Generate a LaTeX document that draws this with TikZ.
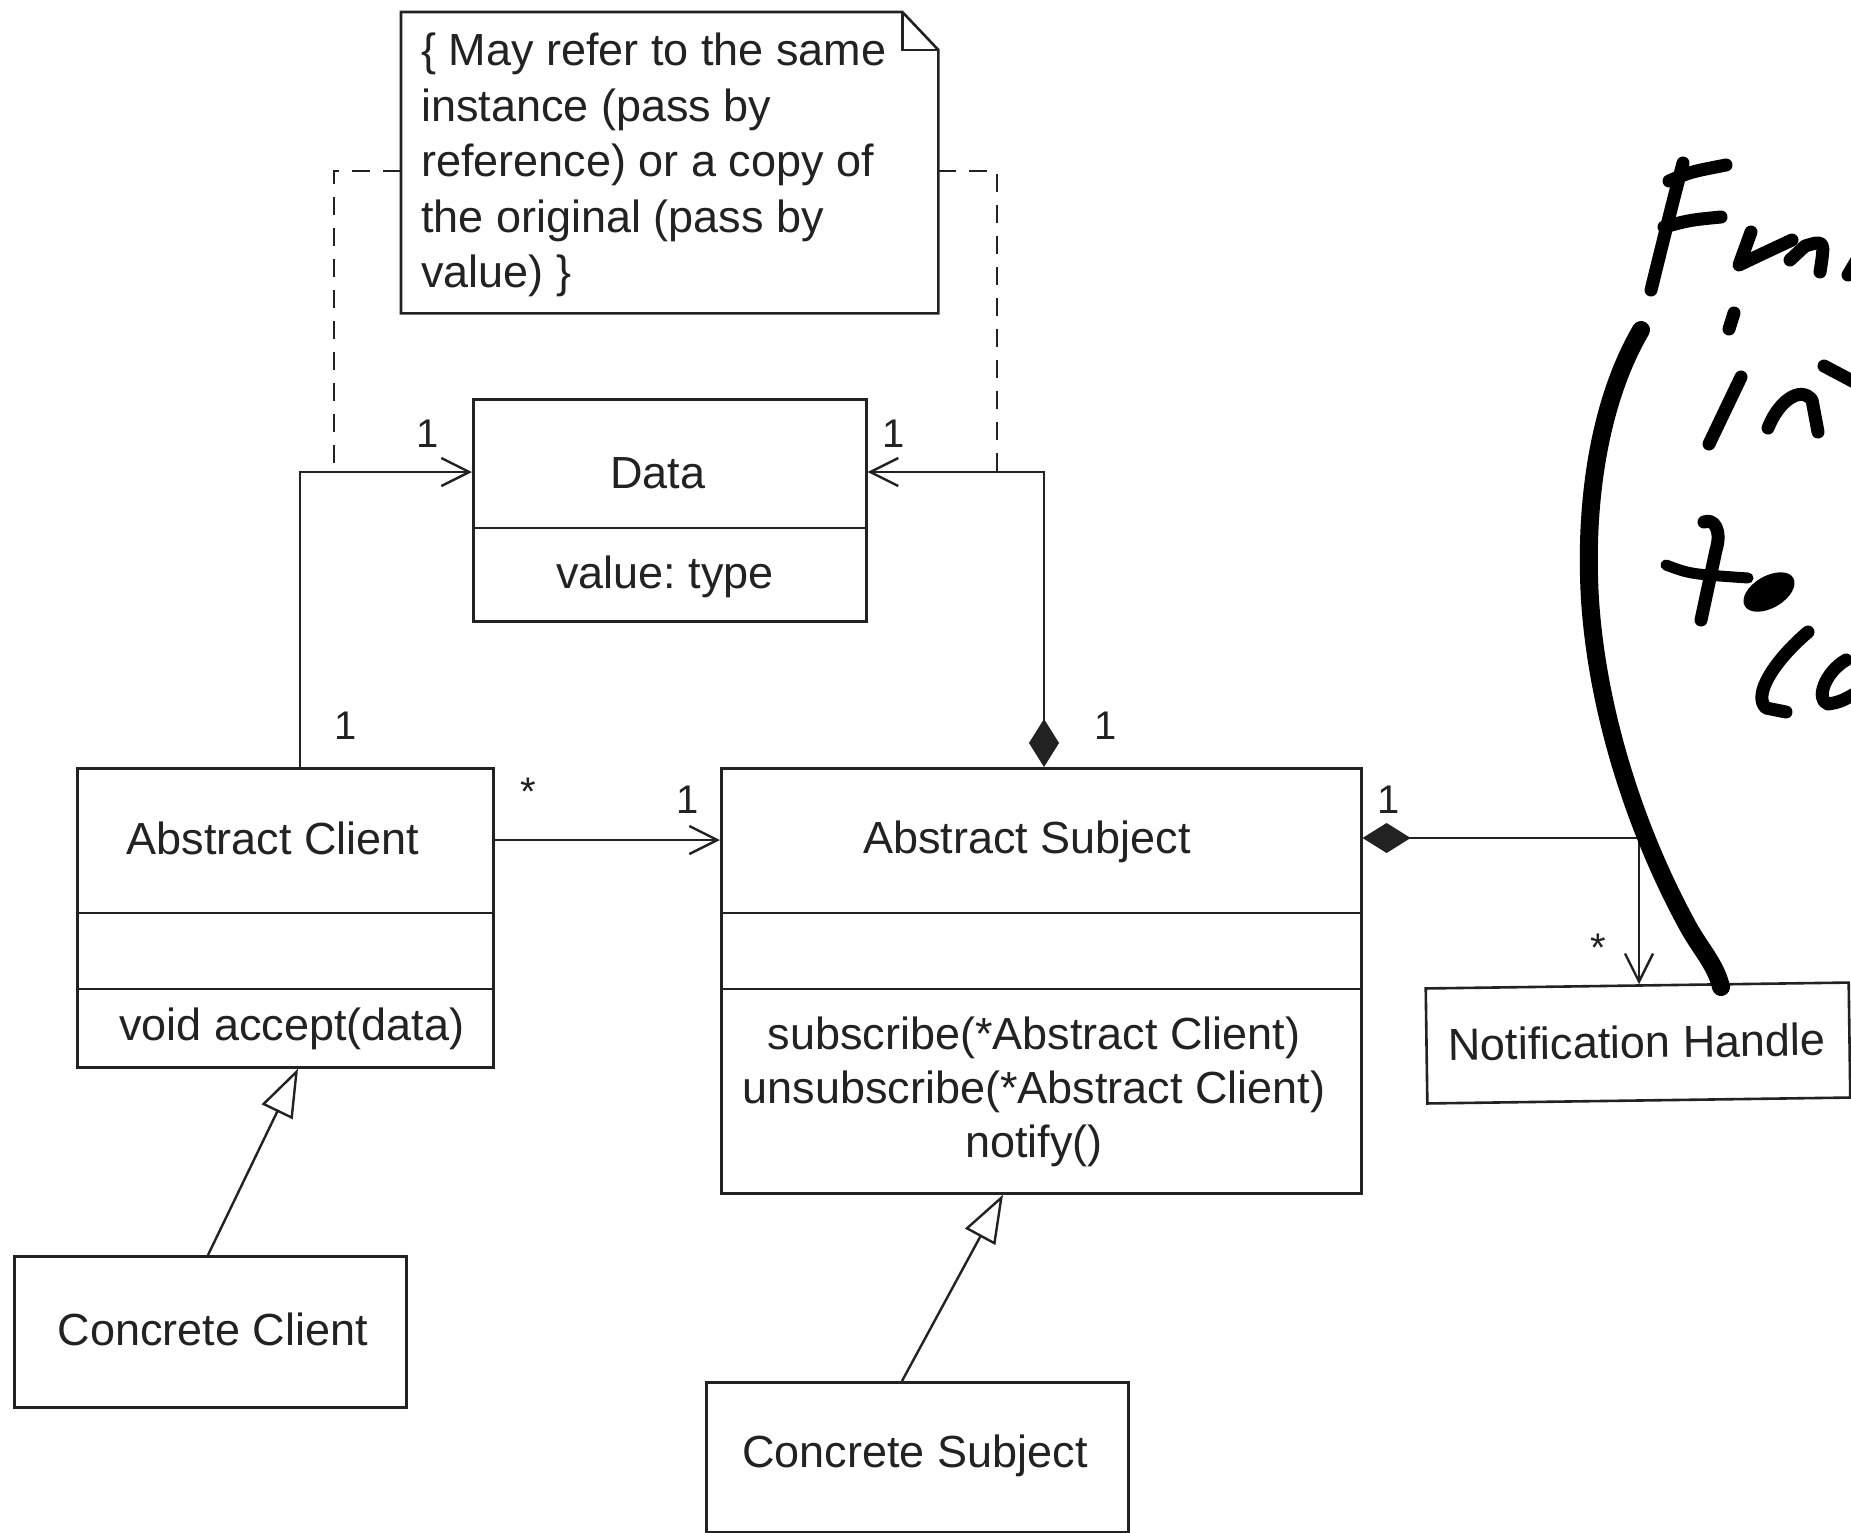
\documentclass[tikz,border=0pt]{standalone}
\usepackage{fontspec}
\setmainfont{Liberation Sans}
\usetikzlibrary{arrows.meta,shapes.geometric,calc}
\definecolor{ink}{HTML}{222222}
\frenchspacing
\begin{document}
\begin{tikzpicture}[x=1pt,y=-1pt,
  box/.style={draw=ink, line width=2.6pt, anchor=north west, inner sep=0pt, rectangle},
  txt/.style={font=\fontsize{45}{54}\selectfont, text=ink, inner sep=0pt},
  notetxt/.style={font=\fontsize{45}{55.5}\selectfont, text=ink, inner sep=0pt, align=left},
  lbl/.style={font=\fontsize{40}{48}\selectfont, text=ink, inner sep=0pt},
  conn/.style={draw=ink, line width=2.4pt},
  divider/.style={draw=ink, line width=2.6pt},
  dashline/.style={draw=ink, line width=2.8pt, dash pattern=on 18pt off 13pt},
  openhead/.style={-{Straight Barb[length=28pt,width=28pt,line width=2.4pt]}},
  comphead/.style={{Diamond[length=48pt,width=30pt,fill=ink,line width=1pt]}-{Straight Barb[length=28pt,width=28pt,line width=2.4pt]}},
  inherit/.style={-{Triangle[open,length=48pt,width=34pt,line width=2.4pt]}},
  hand/.style={draw=black, line width=13pt, line cap=round, line join=round},
]
\useasboundingbox (0,0) rectangle (1851,1532);
\fill[white] (0,0) rectangle (1851,1532);
\clip (0,0) rectangle (1851,1532);

% ---- class boxes ----
\node[box, minimum width=393pt, minimum height=222pt] (data) at (472,398) {};
\node[box, minimum width=416pt, minimum height=299pt] (ac) at (76,767) {};
\node[box, minimum width=640pt, minimum height=425pt] (as) at (720,767) {};
\node[box, minimum width=392pt, minimum height=151pt] (cc) at (13,1255) {};
\node[box, minimum width=422pt, minimum height=150pt] (cs) at (705,1381) {};
\node[draw=ink, line width=2.6pt, rectangle, inner sep=0pt, minimum width=423pt, minimum height=115pt, rotate=0.8] (nh) at (1638,1043) {};
\node[inner sep=0pt, minimum width=537pt, minimum height=301pt, anchor=north west] (note) at (401,12) {};

% dividers
\draw[divider] (data.west |- 0,528) -- (data.east |- 0,528);
\draw[divider] (ac.west |- 0,913) -- (ac.east |- 0,913);
\draw[divider] (ac.west |- 0,989) -- (ac.east |- 0,989);
\draw[divider] (as.west |- 0,913) -- (as.east |- 0,913);
\draw[divider] (as.west |- 0,989) -- (as.east |- 0,989);

% note outline
\draw[divider] (note.north west) -- ([xshift=-36pt]note.north east) -- ([yshift=-38pt]note.north east) -- (note.south east) -- (note.south west) -- cycle;
\draw[divider] ([xshift=-36pt]note.north east) -- ([xshift=-36pt,yshift=-38pt]note.north east) -- ([yshift=-38pt]note.north east);

% ---- texts ----
\node[txt] (datat) at (658,473) {Data};
\node[txt] (datav) at (665,577) {value: type};
\node[txt] (act) at (273,838) {Abstract Client};
\node[txt] (acm) at (292,1029) {void accept(data)};
\node[txt] (ast) at (1027,842) {Abstract Subject};
\node[txt, align=center] (asm) at (1034,1092) {subscribe(*Abstract Client)\\unsubscribe(*Abstract Client)\\notify()};
\node[txt] (cct) at (213,1329) {Concrete Client};
\node[txt] (cst) at (915,1456) {Concrete Subject};
\node[txt, rotate=0.8] (nht) at (1637,1042) {Notification Handle};
\node[notetxt, anchor=west] (notet) at (421,165) {\{ May refer to the same\\instance (pass by\\reference) or a copy of\\the original (pass by\\value) \}};

% ---- connectors ----
\coordinate (lc) at (300,472);
\coordinate (ld) at (334,472);
\coordinate (rc) at (1044,472);
\coordinate (rd) at (997,472);
\coordinate (nc) at (1639,838);

\draw[dashline] (note.west |- 0,171) -| (ld);
\draw[dashline] (note.east |- 0,171) -| (rd);
\draw[conn, openhead] (lc |- ac.north) -- (lc) -- (data.west |- lc);
\draw[conn, comphead] (rc |- as.north) -- (rc) -- (data.east |- rc);
\draw[conn, openhead] (ac.east |- 0,840) -- (as.west |- 0,840);
\draw[conn, comphead] (as.east |- nc) -- (nc) -- (nc |- nh.north);
\draw[conn, inherit] (cc.north -| 208,0) -- (ac.south -| 298,0);
\draw[conn, inherit] (cs.north -| 902,0) -- (as.south -| 1003,0);

% multiplicities
\node[lbl] (m1) at (428,434) {1};
\node[lbl] (m2) at (894,434) {1};
\node[lbl] (m3) at (346,726) {1};
\node[lbl] (m4) at (1106,726) {1};
\node[lbl] (m5) at (528,792) {*};
\node[lbl] (m6) at (688,800) {1};
\node[lbl] (m7) at (1389,800) {1};
\node[lbl] (m8) at (1598,948) {*};

% ---- handwriting ----
\draw[hand, line width=18pt] (1641,330) .. controls (1600,400) and (1584,500) .. (1590,600) .. controls (1598,720) and (1640,840) .. (1690,930) .. controls (1703,952) and (1716,966) .. (1721,987);
% F
\draw[hand] (1683,163) .. controls (1672,205) .. (1651,290);
\draw[hand] (1669,181) .. controls (1690,172) .. (1726,165);
\draw[hand] (1664,227) .. controls (1690,220) .. (1721,217);
% u
\draw[hand] (1751,232) -- (1739,265) .. controls (1762,254) .. (1792,240);
% n
\draw[hand] (1790,260) -- (1805,246) .. controls (1825,240) .. (1820,272);
\draw[hand] (1848,275) -- (1858,258);
% i
\draw[hand] (1734,313) -- (1729,329);
\draw[hand] (1741,377) -- (1709,444);
% n (second row)
\draw[hand] (1768,428) .. controls (1778,402) and (1800,385) .. (1812,400) -- (1818,432);
\draw[hand] (1824,366) -- (1858,384);
% t
\draw[hand] (1704,522) .. controls (1714,518) and (1722,530) .. (1716,550) -- (1701,620);
\draw[hand, line width=11pt] (1666,565) .. controls (1690,574) .. (1748,578);
% o
\node[ellipse, fill=black, inner sep=0pt, minimum width=56pt, minimum height=32pt, rotate=30] (hando) at (1769,592) {};
% ( a
\draw[hand] (1808,632) .. controls (1775,660) and (1752,695) .. (1766,708) -- (1786,712);
\draw[hand] (1846,660) .. controls (1825,672) and (1815,700) .. (1828,704) .. controls (1840,702) .. (1858,692);
\end{tikzpicture}
\end{document}
